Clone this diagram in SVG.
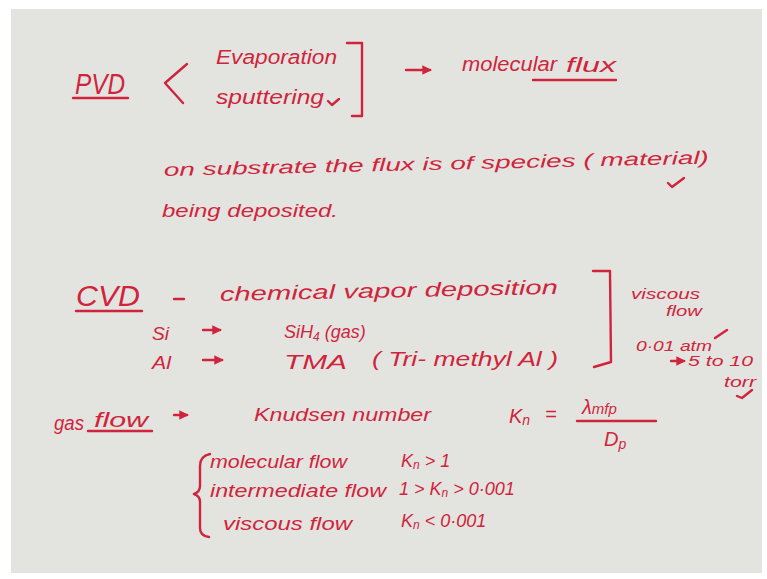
<svg xmlns="http://www.w3.org/2000/svg" width="767" height="579" viewBox="0 0 767 579">
<style>
  .ink { fill: #d0243d; font-family: "Liberation Sans", "DejaVu Sans", sans-serif; font-style: italic; }
  .h { font-size: 30px; }
  .m { font-size: 20px; }
  .s { font-size: 18px; }
  .xs { font-size: 15px; }
  .st { fill: none; stroke: #d0243d; stroke-width: 2.4; stroke-linecap: round; stroke-linejoin: round; }
</style>
<defs>
  <marker id="ah" viewBox="0 0 10 10" refX="8" refY="5" markerWidth="4" markerHeight="4" orient="auto">
    <path d="M0,0 L10,5 L0,10 Z" fill="#d0243d"/>
  </marker>
</defs>
<rect x="0" y="0" width="767" height="579" fill="#ffffff"/>
<rect x="11" y="9" width="751" height="564" fill="#e3e4df"/>

<g id="pvd">
  <text class="ink h" x="75" y="94" textLength="50" lengthAdjust="spacingAndGlyphs">PVD</text>
  <text class="ink m" x="216" y="64" textLength="121" lengthAdjust="spacingAndGlyphs">Evaporation</text>
  <text class="ink m" x="216" y="104" textLength="108" lengthAdjust="spacingAndGlyphs">sputtering</text>
  <text class="ink m" x="462" y="71" textLength="95" lengthAdjust="spacingAndGlyphs">molecular</text>
  <text class="ink m" x="566" y="72" font-size="22" textLength="50" lengthAdjust="spacingAndGlyphs">flux</text>
</g>

<g id="substrate">
  <text class="ink s" x="164" y="176" transform="rotate(-1.3 164 176)" textLength="545" lengthAdjust="spacingAndGlyphs">on  substrate  the flux  is  of  species ( material)</text>
  <text class="ink s" x="162" y="217" textLength="176" lengthAdjust="spacingAndGlyphs">being  deposited.</text>
</g>

<g id="cvd">
  <text class="ink h" x="76" y="306" textLength="64" lengthAdjust="spacingAndGlyphs">CVD</text>
  <text class="ink m" x="220" y="301" transform="rotate(-1.2 220 301)" textLength="338" lengthAdjust="spacingAndGlyphs">chemical   vapor   deposition</text>
  <text class="ink s" x="152" y="340" textLength="17" lengthAdjust="spacingAndGlyphs">Si</text>
  <text class="ink s" x="284" y="338">SiH<tspan font-size="12" dy="3">4</tspan><tspan dy="-3"> (gas)</tspan></text>
  <text class="ink s" x="152" y="369" textLength="19" lengthAdjust="spacingAndGlyphs">Al</text>
  <text class="ink m" x="284" y="369" font-size="24" textLength="63" lengthAdjust="spacingAndGlyphs">TMA</text>
  <text class="ink m" x="372" y="366" textLength="186" lengthAdjust="spacingAndGlyphs">( Tri- methyl  Al )</text>
</g>

<g id="viscous-note">
  <text class="ink xs" x="631" y="299" textLength="69" lengthAdjust="spacingAndGlyphs">viscous</text>
  <text class="ink xs" x="666" y="316" textLength="36" lengthAdjust="spacingAndGlyphs">flow</text>
  <text class="ink xs" x="636" y="351" textLength="76" lengthAdjust="spacingAndGlyphs">0·01 atm</text>
  <text class="ink xs" x="688" y="366" textLength="65" lengthAdjust="spacingAndGlyphs">5 to 10</text>
  <text class="ink xs" x="724" y="387" textLength="32" lengthAdjust="spacingAndGlyphs">torr</text>
</g>

<g id="knudsen">
  <text class="ink m" x="54" y="430" textLength="30" lengthAdjust="spacingAndGlyphs">gas</text>
  <text class="ink m" x="94" y="427" font-size="19" textLength="54" lengthAdjust="spacingAndGlyphs">flow</text>
  <text class="ink s" x="254" y="421" textLength="177" lengthAdjust="spacingAndGlyphs">Knudsen  number</text>
  <text class="ink m" x="509" y="423">K<tspan font-size="14" dy="2">n</tspan></text>
  <text class="ink m" x="545" y="421">=</text>
  <text class="ink m" x="582" y="414">λ<tspan font-size="15">mfp</tspan></text>
  <text class="ink m" x="604" y="446">D<tspan font-size="14" dy="3">p</tspan></text>
</g>

<g id="regimes">
  <text class="ink s" x="210" y="468" textLength="137" lengthAdjust="spacingAndGlyphs">molecular  flow</text>
  <text class="ink s" x="401" y="467">K<tspan font-size="12" dy="2">n</tspan><tspan dy="-2"> &gt; 1</tspan></text>
  <text class="ink s" x="210" y="497" textLength="176" lengthAdjust="spacingAndGlyphs">intermediate  flow</text>
  <text class="ink s" x="399" y="495">1 &gt; K<tspan font-size="12" dy="2">n</tspan><tspan dy="-2"> &gt; 0·001</tspan></text>
  <text class="ink s" x="223" y="530" textLength="129" lengthAdjust="spacingAndGlyphs">viscous   flow</text>
  <text class="ink s" x="401" y="527">K<tspan font-size="12" dy="2">n</tspan><tspan dy="-2"> &lt; 0·001</tspan></text>
</g>

<g id="connectors">
  <path class="st" d="M73,98 L128,98"/>
  <path class="st" d="M533,80 L616,80" stroke-width="1.8"/>
  <path class="st" d="M76,311 L142,311"/>
  <path class="st" d="M88,431 L152,431" stroke-width="1.8"/>
  <path class="st" d="M187,64 L165,83 L183,103"/>
  <path class="st" d="M347,43 L362,43 L362,116 L352,116"/>
  <path class="st" d="M593,271 L610,271 L611,362 L594,367"/>
  <path class="st" d="M210,454 Q200,456 200,466 L200,486 Q200,492 194,494 Q200,496 200,502 L200,528 Q200,536 209,537"/>
  <path class="st" d="M174,299 L184,299"/>
  <path class="st" d="M577,421 L656,421"/>
  <path class="st" d="M406,70 L430,70" marker-end="url(#ah)"/>
  <path class="st" d="M203,330 L220,330" marker-end="url(#ah)"/>
  <path class="st" d="M203,360 L222,360" marker-end="url(#ah)"/>
  <path class="st" d="M671,361 L684,361" stroke-width="1.8" marker-end="url(#ah)"/>
  <path class="st" d="M174,415 L187,415" marker-end="url(#ah)"/>
  <path class="st" d="M328,101 L332,105 L339,99" stroke-width="2"/>
  <path class="st" d="M668,183 L672,187 L684,178" stroke-width="2"/>
  <path class="st" d="M715,338 L727,330" stroke-width="2"/>
  <path class="st" d="M737,396 L742,398 L752,390" stroke-width="2"/>
</g>
</svg>
